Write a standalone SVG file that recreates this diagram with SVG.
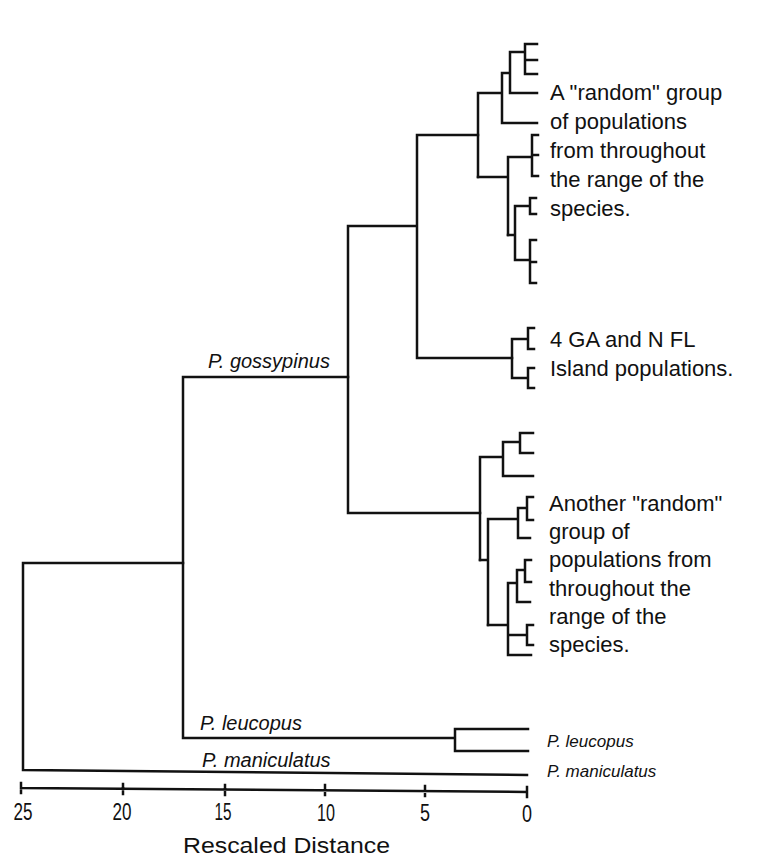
<svg xmlns="http://www.w3.org/2000/svg" width="771" height="860" viewBox="0 0 771 860">
<style>
.ln{fill:none;stroke:#111;stroke-width:2.5;stroke-linecap:square}
.t{font-family:"Liberation Sans",Arial,sans-serif;font-size:22px;fill:#111}
.sp{font-family:"Liberation Sans",Arial,sans-serif;font-size:20px;font-style:italic;fill:#111}
.sps{font-family:"Liberation Sans",Arial,sans-serif;font-size:17px;font-style:italic;fill:#111}
.ax{font-family:"Liberation Sans",Arial,sans-serif;font-size:23px;fill:#111}
</style>
<rect width="771" height="860" fill="#fff"/>
<g id="connectors" class="ln">
<path d="M23,563V770M23,563H183M23,770L527,775"/>
<path d="M183,377V738M183,377H348M183,738H455M455,729V751M455,729H528M455,751H528"/>
<path d="M348,226V513M348,226H417M348,513H480M417,135V358M417,135H478M417,358H512"/>
<path d="M512,339V378M512,339H528M528,328V349M528,328H534M528,349H534M512,378H528M528,368V388M528,368H534M528,388H534"/>
<path d="M478,93V177M478,93H502M502,73V123M502,73H510M510,52V93M510,52H525M525,44V74M525,44H537M525,60H537M525,74H537M510,93H537M502,123H537"/>
<path d="M478,177H508M508,157V235M508,157H532M532,135V176M532,135H538M532,155H538M532,176H538"/>
<path d="M508,235H515M515,206V260M515,206H530M530,198V214M530,198H536M530,214H536M515,260H530M530,240V283M530,240H536M530,262H536M530,283H536"/>
<path d="M480,457V560M480,457H503M503,442V476M503,442H520M520,433V453M520,433H533M520,453H533M503,476H533"/>
<path d="M480,560H488M488,519V625M488,519H518M518,508V538M518,508H527M527,497V520M527,497H533M527,520H533M518,538H530"/>
<path d="M488,625H508M508,583V655M508,583H517M517,570V602M517,570H525M525,560V582M525,560H531M525,582H531M517,602H530M508,635H527M527,625V645M527,625H533M527,645H533M508,655H531"/>
</g>
<g id="axis">
<path class="ln" d="M21,788L527,792M21,783V793M123,784V794M225,785V795M325,785V795M425,786V796M527,787V797"/>
<text class="ax" x="23" y="820" text-anchor="middle" textLength="19" lengthAdjust="spacingAndGlyphs">25</text>
<text class="ax" x="122" y="820" text-anchor="middle" textLength="19" lengthAdjust="spacingAndGlyphs">20</text>
<text class="ax" x="223" y="820" text-anchor="middle" textLength="17" lengthAdjust="spacingAndGlyphs">15</text>
<text class="ax" x="326" y="821" text-anchor="middle" textLength="18" lengthAdjust="spacingAndGlyphs">10</text>
<text class="ax" x="425" y="821" text-anchor="middle" textLength="10" lengthAdjust="spacingAndGlyphs">5</text>
<text class="ax" x="527" y="822" text-anchor="middle" textLength="10" lengthAdjust="spacingAndGlyphs">0</text>
<text class="t" x="183" y="853" textLength="207" lengthAdjust="spacingAndGlyphs">Rescaled Distance</text>
</g>
<g id="label-gossypinus"><text class="sp" x="208" y="368">P. gossypinus</text></g>
<g id="label-leucopus"><text class="sp" x="200" y="730">P. leucopus</text></g>
<g id="label-maniculatus"><text class="sp" x="202" y="767">P. maniculatus</text></g>
<g id="tip-leucopus"><text class="sps" x="547" y="747">P. leucopus</text></g>
<g id="tip-maniculatus"><text class="sps" x="547" y="777">P. maniculatus</text></g>
<g id="group-random-1">
<text class="t" x="550" y="100">A "random" group</text>
<text class="t" x="550" y="129">of populations</text>
<text class="t" x="550" y="158">from throughout</text>
<text class="t" x="550" y="187">the range of the</text>
<text class="t" x="550" y="216">species.</text>
</g>
<g id="group-island">
<text class="t" x="550" y="347">4 GA and N FL</text>
<text class="t" x="550" y="376">Island populations.</text>
</g>
<g id="group-random-2">
<text class="t" x="549" y="511">Another "random"</text>
<text class="t" x="549" y="539">group of</text>
<text class="t" x="549" y="567">populations from</text>
<text class="t" x="549" y="596">throughout the</text>
<text class="t" x="549" y="624">range of the</text>
<text class="t" x="549" y="652">species.</text>
</g>
</svg>
